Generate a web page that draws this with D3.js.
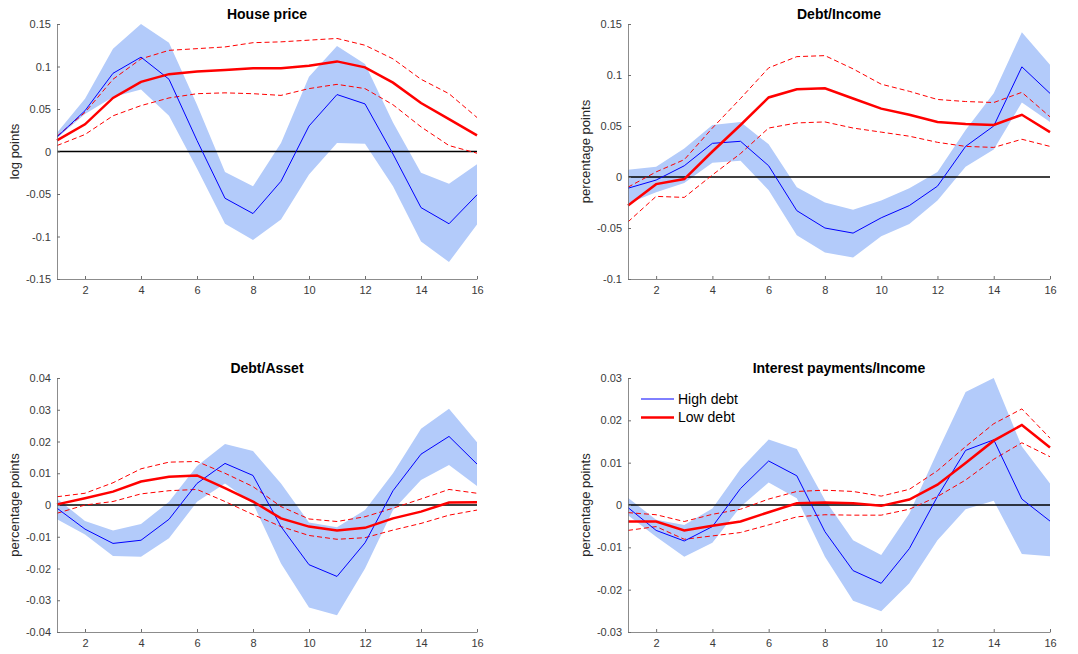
<!DOCTYPE html>
<html>
<head>
<meta charset="utf-8">
<script src="https://cdn.jsdelivr.net/npm/d3@7"></script>
<style>
  body { margin: 0; background: #fff; }
  svg { display: block; font-family: Arial, "Liberation Sans", sans-serif; }
  .tick text { fill: #3a3a3a; font-size: 11px; }
  .domain, .tick line { stroke: #6e6e6e; }
</style>
</head>
<body>
<svg id="chart" width="1078" height="654"></svg>
<script>
// horizon (quarters)
const horizon = d3.range(1, 17);

// House price
const hpHighMid = [0.017, 0.048, 0.092, 0.111, 0.085, 0.013, -0.055, -0.073, -0.035, 0.030, 0.067, 0.056, -0.003, -0.066, -0.085, -0.051];
const hpHighUp  = [0.022, 0.062, 0.121, 0.150, 0.128, 0.055, -0.024, -0.041, 0.010, 0.088, 0.124, 0.103, 0.034, -0.025, -0.038, -0.015];
const hpHighLo  = [0.016, 0.044, 0.064, 0.073, 0.042, -0.020, -0.085, -0.104, -0.080, -0.027, 0.010, 0.009, -0.041, -0.106, -0.130, -0.086];
const hpLowMid  = [0.013, 0.032, 0.063, 0.082, 0.091, 0.094, 0.096, 0.098, 0.098, 0.101, 0.106, 0.099, 0.081, 0.057, 0.038, 0.019];
const hpLowUp   = [0.018, 0.046, 0.085, 0.109, 0.119, 0.121, 0.123, 0.128, 0.129, 0.131, 0.133, 0.125, 0.109, 0.085, 0.068, 0.040];
const hpLowLo   = [0.007, 0.020, 0.042, 0.054, 0.063, 0.068, 0.069, 0.068, 0.066, 0.074, 0.079, 0.074, 0.055, 0.029, 0.007, -0.002];

// Debt/Income
const diHighMid = [-0.011, -0.003, 0.011, 0.033, 0.035, 0.011, -0.033, -0.050, -0.055, -0.040, -0.028, -0.009, 0.030, 0.050, 0.108, 0.082];
const diHighUp  = [0.007, 0.010, 0.028, 0.051, 0.054, 0.032, -0.010, -0.025, -0.032, -0.023, -0.011, 0.005, 0.046, 0.082, 0.142, 0.110];
const diHighLo  = [-0.026, -0.015, -0.006, 0.014, 0.016, -0.013, -0.057, -0.074, -0.079, -0.058, -0.046, -0.023, 0.010, 0.027, 0.073, 0.054];
const diLowMid  = [-0.028, -0.007, -0.002, 0.025, 0.051, 0.078, 0.086, 0.087, 0.077, 0.067, 0.061, 0.054, 0.052, 0.051, 0.061, 0.044];
const diLowUp   = [-0.010, 0.005, 0.017, 0.048, 0.077, 0.107, 0.118, 0.119, 0.106, 0.091, 0.084, 0.076, 0.074, 0.073, 0.083, 0.059];
const diLowLo   = [-0.044, -0.019, -0.020, 0.002, 0.023, 0.048, 0.053, 0.054, 0.048, 0.044, 0.040, 0.034, 0.030, 0.029, 0.037, 0.030];

// Debt/Asset
const daHighMid = [-0.0010, -0.0076, -0.0121, -0.0111, -0.0045, 0.0068, 0.0131, 0.0093, -0.0068, -0.0188, -0.0225, -0.0119, 0.0045, 0.0160, 0.0216, 0.0129];
const daHighUp  = [0.0020, -0.0050, -0.0080, -0.0060, 0.0010, 0.0123, 0.0192, 0.0170, 0.0068, -0.0055, -0.0070, -0.0016, 0.0100, 0.0240, 0.0303, 0.0198];
const daHighLo  = [-0.0045, -0.0093, -0.0161, -0.0163, -0.0105, 0.0010, 0.0068, 0.0005, -0.0184, -0.0323, -0.0347, -0.0200, -0.0016, 0.0079, 0.0126, 0.0060];
const daLowMid  = [0.0002, 0.0021, 0.0042, 0.0074, 0.0089, 0.0093, 0.0053, 0.0011, -0.0042, -0.0068, -0.0080, -0.0072, -0.0042, -0.0021, 0.0008, 0.0009];
const daLowUp   = [0.0026, 0.0037, 0.0070, 0.0114, 0.0135, 0.0137, 0.0100, 0.0058, -0.0005, -0.0044, -0.0052, -0.0037, -0.0010, 0.0019, 0.0049, 0.0037];
const daLowLo   = [-0.0026, 0.0000, 0.0011, 0.0035, 0.0045, 0.0049, 0.0011, -0.0030, -0.0068, -0.0096, -0.0108, -0.0103, -0.0079, -0.0058, -0.0032, -0.0016];

// Interest payments/Income
const ipHighMid = [-0.0006, -0.0060, -0.0085, -0.0051, 0.0039, 0.0104, 0.0069, -0.0063, -0.0155, -0.0185, -0.0103, 0.0020, 0.0129, 0.0154, 0.0014, -0.0038];
const ipHighUp  = [0.0017, -0.0035, -0.0047, -0.0008, 0.0085, 0.0155, 0.0132, 0.0012, -0.0083, -0.0118, -0.0020, 0.0126, 0.0267, 0.0300, 0.0138, 0.0051];
const ipHighLo  = [-0.0024, -0.0075, -0.0122, -0.0089, -0.0004, 0.0053, 0.0016, -0.0122, -0.0226, -0.0251, -0.0185, -0.0083, -0.0010, 0.0010, -0.0116, -0.0121];
const ipLowMid  = [-0.0039, -0.0039, -0.0060, -0.0049, -0.0039, -0.0017, 0.0004, 0.0006, 0.0004, -0.0002, 0.0013, 0.0048, 0.0099, 0.0152, 0.0189, 0.0136];
const ipLowUp   = [-0.0018, -0.0023, -0.0039, -0.0022, -0.0010, 0.0014, 0.0032, 0.0035, 0.0032, 0.0021, 0.0037, 0.0081, 0.0138, 0.0192, 0.0227, 0.0158];
const ipLowLo   = [-0.0060, -0.0051, -0.0081, -0.0073, -0.0065, -0.0047, -0.0028, -0.0023, -0.0024, -0.0024, -0.0010, 0.0020, 0.0059, 0.0108, 0.0147, 0.0114];

const xTicks = [2, 4, 6, 8, 10, 12, 14, 16];
const hpTicks = [-0.15, -0.1, -0.05, 0, 0.05, 0.1, 0.15];
const diTicks = [-0.1, -0.05, 0, 0.05, 0.1, 0.15];
const daTicks = [-0.04, -0.03, -0.02, -0.01, 0, 0.01, 0.02, 0.03, 0.04];
const ipTicks = [-0.03, -0.02, -0.01, 0, 0.01, 0.02, 0.03];

const legendLabels = ["High debt", "Low debt"];

const panels = [
  { title: "House price", ylabel: "log points", domain: [-0.15, 0.15], ticks: hpTicks,
    left: 57, right: 477, top: 24, bottom: 279,
    hm: hpHighMid, hu: hpHighUp, hl: hpHighLo, lm: hpLowMid, lu: hpLowUp, ll: hpLowLo },
  { title: "Debt/Income", ylabel: "percentage points", domain: [-0.1, 0.15], ticks: diTicks,
    left: 628, right: 1050, top: 24, bottom: 279,
    hm: diHighMid, hu: diHighUp, hl: diHighLo, lm: diLowMid, lu: diLowUp, ll: diLowLo },
  { title: "Debt/Asset", ylabel: "percentage points", domain: [-0.04, 0.04], ticks: daTicks,
    left: 57, right: 477, top: 378, bottom: 632,
    hm: daHighMid, hu: daHighUp, hl: daHighLo, lm: daLowMid, lu: daLowUp, ll: daLowLo },
  { title: "Interest payments/Income", ylabel: "percentage points", domain: [-0.03, 0.03], ticks: ipTicks,
    left: 628, right: 1050, top: 378, bottom: 632, legend: true,
    hm: ipHighMid, hu: ipHighUp, hl: ipHighLo, lm: ipLowMid, lu: ipLowUp, ll: ipLowLo }
];

const svg = d3.select("#chart");

// matlab-ish number format: 0.15, 0.1, 0, -0.05
const fmt = d => d === 0 ? "0" : String(+d.toFixed(3));

panels.forEach(p => {
  const x = d3.scaleLinear().domain([1, 16]).range([p.left, p.right]);
  const y = d3.scaleLinear().domain(p.domain).range([p.bottom, p.top]);
  const g = svg.append("g");

  // high debt confidence band
  const area = d3.area()
    .x((d, i) => x(horizon[i]))
    .y0((d, i) => y(p.hl[i]))
    .y1((d, i) => y(p.hu[i]));
  g.append("path")
    .datum(p.hm)
    .attr("d", area)
    .attr("fill", "#b3cbfa");

  const line = arr => d3.line()
    .x((d, i) => x(horizon[i]))
    .y(d => y(d))(arr);

  // zero line
  g.append("line")
    .attr("x1", x(1)).attr("x2", x(16))
    .attr("y1", y(0)).attr("y2", y(0))
    .attr("stroke", "#000").attr("stroke-width", 1.5);

  // low debt bands (dashed)
  [p.lu, p.ll].forEach(arr => {
    g.append("path")
      .attr("d", line(arr))
      .attr("fill", "none")
      .attr("stroke", "#ff0000")
      .attr("stroke-width", 1)
      .attr("stroke-dasharray", "5,3");
  });

  // high debt median
  g.append("path")
    .attr("d", line(p.hm))
    .attr("fill", "none")
    .attr("stroke", "#0000ff")
    .attr("stroke-width", 1);

  // low debt median
  g.append("path")
    .attr("d", line(p.lm))
    .attr("fill", "none")
    .attr("stroke", "#ff0000")
    .attr("stroke-width", 2.5);

  // axes, ticks pointing inward
  g.append("g")
    .attr("transform", "translate(0," + p.bottom + ")")
    .call(d3.axisBottom(x).tickValues(xTicks).tickSizeInner(-3).tickSizeOuter(0).tickPadding(7));
  g.append("g")
    .attr("transform", "translate(" + p.left + ",0)")
    .call(d3.axisLeft(y).tickValues(p.ticks).tickFormat(fmt).tickSizeInner(-3).tickSizeOuter(0).tickPadding(6));
  g.selectAll(".domain").attr("stroke-width", 0.8);

  // title
  g.append("text")
    .attr("x", (p.left + p.right) / 2)
    .attr("y", p.top - 5)
    .attr("text-anchor", "middle")
    .attr("font-size", 14)
    .attr("font-weight", "bold")
    .attr("fill", "#000")
    .text(p.title);

  // y label
  g.append("text")
    .attr("transform", "translate(" + (p.left - 38) + "," + ((p.top + p.bottom) / 2) + ") rotate(-90)")
    .attr("text-anchor", "middle")
    .attr("font-size", 13)
    .attr("fill", "#262626")
    .text(p.ylabel);

  if (p.legend) {
    const leg = g.append("g").attr("transform", "translate(" + (p.left + 13) + "," + (p.top + 21) + ")");
    const styles = [{ c: "#0000ff", w: 1 }, { c: "#ff0000", w: 2.5 }];
    legendLabels.forEach((lab, i) => {
      leg.append("line")
        .attr("x1", 0).attr("x2", 33)
        .attr("y1", i * 18.5).attr("y2", i * 18.5)
        .attr("stroke", styles[i].c).attr("stroke-width", styles[i].w);
      leg.append("text")
        .attr("x", 37).attr("y", i * 18.5)
        .attr("dy", "0.35em")
        .attr("font-size", 14)
        .attr("fill", "#000")
        .text(lab);
    });
  }
});
</script>
</body>
</html>
